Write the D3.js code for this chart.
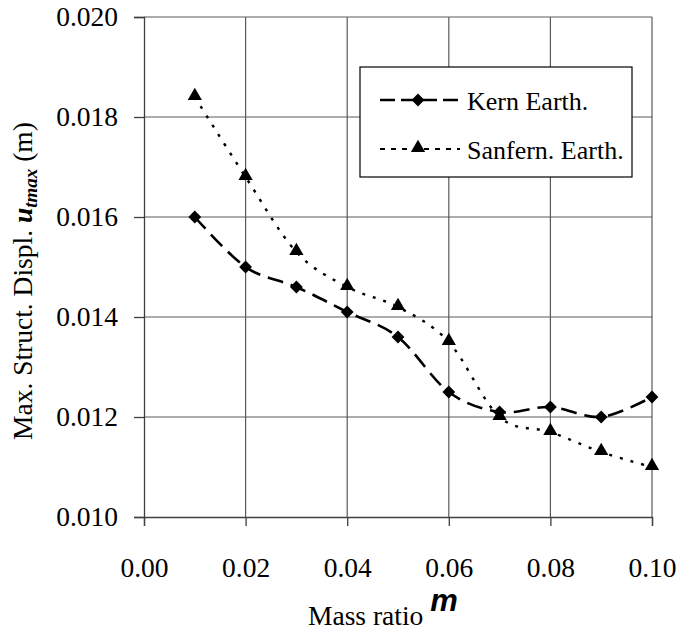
<!DOCTYPE html>
<html><head><meta charset="utf-8">
<script src="https://cdn.jsdelivr.net/npm/d3@7/dist/d3.min.js"></script>
<style>body{margin:0;background:#fff}svg{display:block}text{font-family:"Liberation Serif","Times New Roman",serif;fill:#000}</style>
</head><body>
<script>
const massRatio = [0.01,0.02,0.03,0.04,0.05,0.06,0.07,0.08,0.09,0.10];
const kernEarth = [0.0160,0.0150,0.0146,0.0141,0.0136,0.0125,0.0121,0.0122,0.0120,0.0124];
const sanfernEarth = [0.0184,0.0168,0.0153,0.0146,0.0142,0.0135,0.0120,0.0117,0.0113,0.0110];
const xTicks = [0,0.02,0.04,0.06,0.08,0.10];
const yTicks = [0.010,0.012,0.014,0.016,0.018,0.020];
const seriesNames = ["Kern Earth.","Sanfern. Earth."];

const W=681,H=638;
const svg=d3.select("body").append("svg").attr("width",W).attr("height",H);
const x=d3.scaleLinear().domain([0,0.10]).range([144,652]);
const y=d3.scaleLinear().domain([0.010,0.020]).range([517,17]);
const grid="#5a5a5a";

// grid
svg.append("g").selectAll("line").data(xTicks.slice(1)).join("line")
  .attr("x1",d=>x(d)).attr("x2",d=>x(d)).attr("y1",y(0.020)).attr("y2",y(0.010))
  .attr("stroke",grid).attr("stroke-width",1.2);
svg.append("g").selectAll("line").data(yTicks.slice(1)).join("line")
  .attr("x1",x(0)).attr("x2",x(0.10)).attr("y1",d=>y(d)).attr("y2",d=>y(d))
  .attr("stroke",grid).attr("stroke-width",1.2);

// axes
const xAxis=svg.append("g").attr("transform",`translate(0,${y(0.010)})`)
  .call(d3.axisBottom(x).tickValues(xTicks).tickFormat(d3.format(".2f")).tickSize(9).tickPadding(31));
const yAxis=svg.append("g").attr("transform",`translate(${x(0)},0)`)
  .call(d3.axisLeft(y).tickValues(yTicks).tickFormat(d3.format(".3f")).tickSize(10).tickPadding(16));
[xAxis,yAxis].forEach(g=>{
  g.select(".domain").attr("stroke","#404040").attr("stroke-width",1.3);
  g.selectAll(".tick line").attr("stroke","#404040").attr("stroke-width",1.3);
  g.selectAll("text").style("font-family","'Liberation Serif',serif").style("font-size","27.5px").attr("fill","#000");
});

// series
const curve=d3.curveCatmullRom.alpha(0);
const kernData=massRatio.map((m,i)=>[m,kernEarth[i]]);
const sanData=massRatio.map((m,i)=>[m,sanfernEarth[i]]);
const line=d3.line().x(d=>x(d[0])).y(d=>y(d[1])).curve(curve);
svg.append("path").datum(sanData).attr("d",line).attr("fill","none").attr("stroke","#000")
  .attr("stroke-width",2.4).attr("stroke-dasharray","3,8");
svg.append("path").datum(kernData).attr("d",line).attr("fill","none").attr("stroke","#000")
  .attr("stroke-width",2.6).attr("stroke-dasharray","16,8");

const diamond=d3.symbol().type(d3.symbolDiamond2).size(105);
const tri=d3.symbol().type(d3.symbolTriangle).size(88);
svg.append("g").selectAll("path").data(kernData).join("path")
  .attr("d",diamond).attr("transform",d=>`translate(${x(d[0])},${y(d[1])})`).attr("fill","#000");
svg.append("g").selectAll("path").data(sanData).join("path")
  .attr("d",tri).attr("transform",d=>`translate(${x(d[0])},${y(d[1])-1})`).attr("fill","#000");

// legend
const lg=svg.append("g");
lg.append("rect").attr("x",360).attr("y",67).attr("width",272).attr("height",110)
  .attr("fill","#fff").attr("stroke","#000").attr("stroke-width",1.2);
const rows=[{y:100,dash:"15,6",w:2.6,sym:diamond},{y:149,dash:"5,6",w:2.2,sym:tri}];
rows.forEach((r,i)=>{
  lg.append("line").attr("x1",380).attr("x2",460).attr("y1",r.y).attr("y2",r.y)
    .attr("stroke","#000").attr("stroke-width",r.w).attr("stroke-dasharray",r.dash);
  lg.append("path").attr("d",r.sym).attr("transform",`translate(418,${r.y-(i?1:0)})`).attr("fill","#000");
  lg.append("text").attr("x",467).attr("y",r.y).attr("dy","0.38em").style("font-size","26px").text(seriesNames[i]);
});

// x title
const xt=svg.append("text").attr("x",308).attr("y",625).style("font-size","27.5px");
xt.append("tspan").text("Mass ratio ");
xt.append("tspan").attr("dy",-14).style("font-family","'Liberation Sans',Arial,sans-serif")
  .style("font-weight","bold").style("font-style","italic").style("font-size","31px").text("m");

// y title
const yt=svg.append("text").attr("transform","translate(32,440) rotate(-90)").style("font-size","27.5px");
yt.append("tspan").text("Max. Struct. Displ. ");
yt.append("tspan").style("font-weight","bold").style("font-style","italic").text("u");
yt.append("tspan").attr("dy",5).style("font-weight","bold").style("font-style","italic").style("font-size","19px").text("tmax");
yt.append("tspan").attr("dy",-5).text(" (m)");
</script>
</body></html>
